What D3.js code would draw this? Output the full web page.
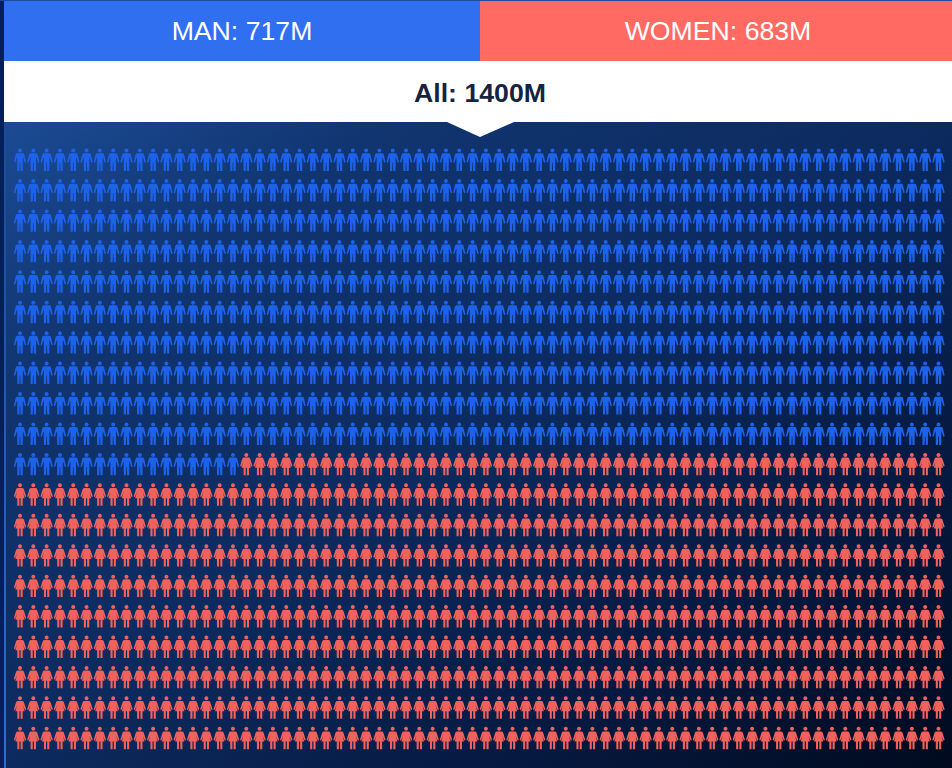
<!DOCTYPE html>
<html><head><meta charset="utf-8">
<script src="https://cdn.jsdelivr.net/npm/d3@7/dist/d3.min.js"></script>
<style>html,body{margin:0;padding:0;background:#031a4a;overflow:hidden}svg{display:block}text{font-family:"Liberation Sans",Arial,sans-serif}</style>
</head><body><svg id="c" width="952" height="768"></svg>
<script>
const categories = ["MAN", "WOMEN"];
const values = [717, 683];
const totalLabel = "All";
const unit = "M";
const colors = ["#2f6ff0", "#ff6a63"];
const iconColors = ["#1f62ea", "#f2625b"];
const columns = 70, rows = 20;

const manPath = "M0,-11.2a2,2 0 1 1 -.01,0ZM-2.8,-6.6H2.8Q3.9,-6.6 4.3,-5.4L6,1.8Q6.1,2.9 5.5,3Q4.9,3.1 4.6,2.2L3.3,-2L2.8,-2.2V2.8L2.7,11.2H.55L.3,2.8H-.3L-.55,11.2H-2.7L-2.8,2.8V-2.2L-3.3,-2L-4.6,2.2Q-4.9,3.1 -5.5,3Q-6.1,2.9 -6,1.8L-4.3,-5.4Q-3.9,-6.6 -2.8,-6.6Z";
const womanPath = "M0,-11.2a2,2 0 1 1 -.01,0ZM-2.3,-6.6H2.3Q3.4,-6.6 3.9,-5.4L6,1.2Q6.2,2.2 5.6,2.4Q5,2.6 4.7,1.8L3,-2.2L4.7,3.6H2.7V11.2H.6V3.6H-.6V11.2H-2.7V3.6H-4.7L-3,-2.2L-4.7,1.8Q-5,2.6 -5.6,2.4Q-6.2,2.2 -6,1.2L-3.9,-5.4Q-3.4,-6.6 -2.3,-6.6Z";

const svg = d3.select("#c");
const defs = svg.append("defs");
const g = defs.append("linearGradient").attr("id","bg").attr("x1","0").attr("y1","0").attr("x2","1").attr("y2","1");
[[0,"#1b4b94"],[0.2,"#113570"],[0.5,"#0c2a5e"],[0.75,"#061a42"],[1,"#010a1e"]].forEach(([o,c])=>g.append("stop").attr("offset",o).attr("stop-color",c));
const edge = defs.append("linearGradient").attr("id","edge").attr("x1","0").attr("y1","0").attr("x2","0").attr("y2","1");
[[0,"#1b4b94"],[1,"#2f6ad8"]].forEach(([o,c])=>edge.append("stop").attr("offset",o).attr("stop-color",c));
defs.append("filter").attr("id","soft").attr("filterUnits","userSpaceOnUse").attr("x",0).attr("y",120).attr("width",952).attr("height",648)
  .append("feGaussianBlur").attr("stdDeviation",0.4);

svg.append("rect").attr("width",952).attr("height",768).attr("fill","#03205a");
svg.append("rect").attr("x",4).attr("y",122).attr("width",948).attr("height",646).attr("fill","url(#bg)");
svg.append("rect").attr("x",4).attr("y",122).attr("width",2).attr("height",646).attr("fill","url(#edge)");
svg.append("rect").attr("x",0).attr("y",0).attr("width",952).attr("height",1).attr("fill","#1d4a9a");

const total = d3.sum(values);
const bx = d3.scaleLinear().domain([0,2]).range([4,956]);
svg.selectAll("rect.hdr").data(categories).join("rect").attr("class","hdr")
  .attr("x",(d,i)=>i===0?4:480).attr("y",1).attr("width",(d,i)=>i===0?476:472).attr("height",60)
  .attr("fill",(d,i)=>colors[i]);
svg.selectAll("text.hdr").data(categories).join("text").attr("class","hdr")
  .attr("x",(d,i)=>bx(i+0.5)).attr("y",40).attr("text-anchor","middle")
  .attr("font-size",26.67).attr("fill","#fff").text((d,i)=>`${d}: ${values[i]}${unit}`);
svg.append("rect").attr("x",4).attr("y",61).attr("width",948).attr("height",61).attr("fill","#fff");
svg.append("path").attr("d",d3.line()([[447,122],[514,122],[480,137]])+"Z").attr("fill","#fff");
svg.append("text").attr("x",480).attr("y",102).attr("text-anchor","middle").attr("font-size",26.67).attr("font-weight","700").attr("fill","#172440")
  .text(`${totalLabel}: ${total}${unit}`);

const xs = d3.scaleLinear().domain([0,columns-1]).range([20,938.5]);
const ys = d3.scaleLinear().domain([0,rows-1]).range([159.8,738]);
const people = d3.range(total).map(i=>({i,col:i%columns,row:Math.floor(i/columns),k:i<values[0]?0:1}));
svg.append("g").attr("filter","url(#soft)").selectAll("path").data(people).join("path")
  .attr("d",d=>d.k===0?manPath:womanPath)
  .attr("transform",d=>`translate(${xs(d.col)},${ys(d.row)})`)
  .attr("fill",d=>iconColors[d.k]);
</script></body></html>
